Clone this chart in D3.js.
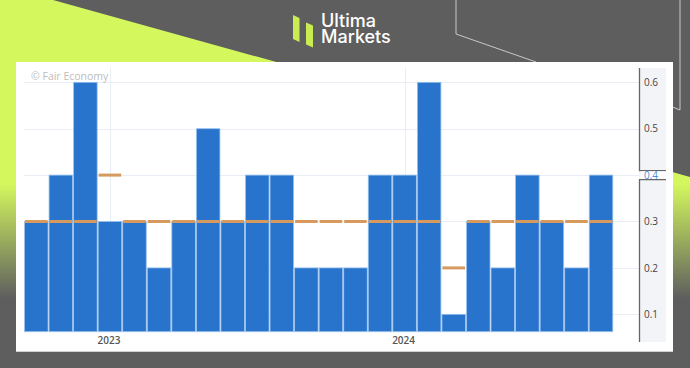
<!DOCTYPE html>
<html><head><meta charset="utf-8">
<script src="https://cdn.jsdelivr.net/npm/d3@7"></script>
<style>html,body{margin:0;padding:0;background:#5e5e5e;overflow:hidden}
#wrap{position:relative;width:690px;height:368px}
#c{position:absolute;left:0;top:0}
#logo{position:absolute;left:321px;top:13px;font-family:Inter,'Open Sans',sans-serif;font-size:18px;font-weight:500;line-height:16px;color:#fff;white-space:pre-line}
</style>
</head><body>
<div id="wrap"><svg id="c" width="690" height="368"></svg></div>
<script>
const months = ["2022-10","2022-11","2022-12","2023-01","2023-02","2023-03","2023-04","2023-05","2023-06","2023-07","2023-08","2023-09","2023-10","2023-11","2023-12","2024-01","2024-02","2024-03","2024-04","2024-05","2024-06","2024-07","2024-08","2024-09"];
const actual = [0.3,0.4,0.6,0.3,0.3,0.2,0.3,0.5,0.3,0.4,0.4,0.2,0.2,0.2,0.4,0.4,0.6,0.1,0.3,0.2,0.4,0.3,0.2,0.4];
const forecast = [0.3,0.3,0.3,0.4,0.3,0.3,0.3,0.3,0.3,0.3,0.3,0.3,0.3,0.3,0.3,0.3,0.3,0.2,0.3,0.3,0.3,0.3,0.3,0.3];
const yTicks = [0.1,0.2,0.3,0.5,0.6];
const currentValue = 0.4;
const yearLabels = [{m:"2023-01",t:"2023"},{m:"2024-01",t:"2024"}];
const brandLines = ["Ultima","Markets"];

const svg = d3.select("#c");
const defs = svg.append("defs");
const lime = "#d3f75d", gray = "#5e5e5e";
const g1 = defs.append("linearGradient").attr("id","gl").attr("gradientUnits","userSpaceOnUse")
  .attr("x1",0).attr("y1",0).attr("x2",0).attr("y2",368);
g1.append("stop").attr("offset",0.5).attr("stop-color",lime);
g1.append("stop").attr("offset",0.81).attr("stop-color",gray);

svg.append("rect").attr("width",690).attr("height",368).attr("fill",gray);
// left lime
svg.append("path").attr("d","M0,0 L53,0 L1378,368 L0,368 Z").attr("fill","url(#gl)");
// right lime
svg.append("path").attr("d","M560,135 L690,178 L690,368 L560,368 Z").attr("fill","url(#gl)");
// decorative lines
svg.append("path").attr("d","M456,0 L456,34 L536,62").attr("fill","none").attr("stroke","#c8c8c8").attr("stroke-width",1);
svg.append("path").attr("d","M680,0 L680,110 L670,106").attr("fill","none").attr("stroke","#c8c8c8").attr("stroke-width",1);

// logo
const logo = svg.append("g");
logo.append("path").attr("d","M293,15 L299.5,18 L299.5,42 L293,39 Z").attr("fill","#c8ec52");
logo.append("path").attr("d","M306,22.5 L313,25.5 L313,47.5 L306,44.5 Z").attr("fill","#c8ec52");
d3.select("#wrap").append("div").attr("id","logo").text(brandLines.join("\n"));

// panel
svg.append("rect").attr("x",16).attr("y",62).attr("width",657).attr("height",289.5).attr("fill","#fff");
svg.append("line").attr("x1",16).attr("x2",673).attr("y1",351.5).attr("y2",351.5).attr("stroke","#cfcfcf").attr("stroke-width",1);

const x = d3.scaleBand().domain(months).range([24,613.3]).paddingInner(0).paddingOuter(0);
const y = d3.scaleLinear().domain([0.0625,0.6308]).range([331.7,68]);

// horizontal grid
svg.append("g").selectAll("line").data(yTicks.concat([currentValue])).join("line")
  .attr("x1",24).attr("x2",639).attr("y1",d=>Math.round(y(d))+0.5).attr("y2",d=>Math.round(y(d))+0.5)
  .attr("stroke","#e9edf5").attr("stroke-width",1);
// vertical grid
svg.append("g").selectAll("line").data(yearLabels).join("line")
  .attr("x1",d=>Math.round(x(d.m)+x.bandwidth()/2)+0.5).attr("x2",d=>Math.round(x(d.m)+x.bandwidth()/2)+0.5)
  .attr("y1",68).attr("y2",332).attr("stroke","#e9edf5").attr("stroke-width",1);

// watermark
svg.append("text").attr("x",31).attr("y",80).text("© Fair Economy")
  .attr("font-family","'Open Sans', sans-serif").attr("font-size",10.5).attr("fill","#bdbdbd");

// bars
svg.append("g").selectAll("rect").data(months).join("rect")
  .attr("x",(d)=>x(d)+0.5).attr("width",x.bandwidth()-1)
  .attr("y",(d,i)=>y(actual[i])).attr("height",(d,i)=>y.range()[0]-y(actual[i]))
  .attr("fill","#2874cd").attr("stroke","#9cc2ee").attr("stroke-width",0.8);

// forecast markers
svg.append("g").selectAll("rect").data(months).join("rect")
  .attr("x",(d)=>x(d)+1).attr("width",x.bandwidth()-2)
  .attr("y",(d,i)=>y(forecast[i])-1.5).attr("height",3)
  .attr("fill","#d69a5f");

// axis panel
const ax = svg.append("g");
ax.append("rect").attr("x",639).attr("y",68).attr("width",27).attr("height",274).attr("fill","#f3f4f8");
const yc = y(currentValue);
ax.append("path").attr("d",`M639.5,68 L639.5,${yc-4.5} L666,${yc-4.5}`).attr("fill","none").attr("stroke","#666").attr("stroke-width",1.3);
ax.append("path").attr("d",`M666,${yc+4.5} L639.5,${yc+4.5} L639.5,342`).attr("fill","none").attr("stroke","#666").attr("stroke-width",1.3);
ax.append("rect").attr("x",640.5).attr("y",yc-3.8).attr("width",25.5).attr("height",7.6).attr("fill","#fff");
const yAxis = d3.axisRight(y).tickValues(yTicks).tickSize(0).tickPadding(5).tickFormat(d3.format(".1f"));
const ag = ax.append("g").attr("transform","translate(639,0)").call(yAxis);
ag.select(".domain").remove();
ag.selectAll("text").attr("font-family","'Open Sans', sans-serif").attr("font-size",10).attr("fill","#444");
ax.append("text").attr("x",644).attr("y",yc).attr("dy","0.35em").text(d3.format(".1f")(currentValue))
  .attr("font-family","'Open Sans', sans-serif").attr("font-size",10).attr("fill","#4a8fe0");

// x labels
svg.append("g").selectAll("text").data(yearLabels).join("text")
  .attr("x",d=>x(d.m)+x.bandwidth()/2 - 1).attr("y",344).attr("text-anchor","middle").text(d=>d.t)
  .attr("font-family","'Open Sans', sans-serif").attr("font-size",10).attr("font-weight",600).attr("fill","#555");
</script>
</body></html>
